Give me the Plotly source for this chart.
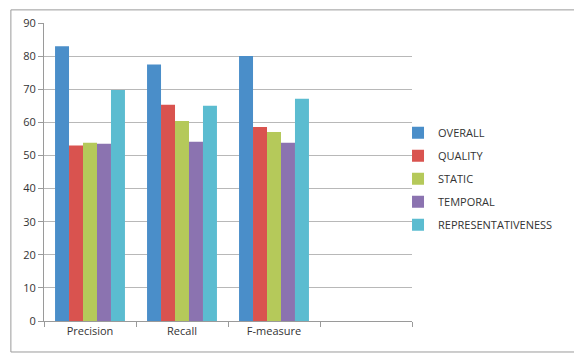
import plotly.graph_objects as go

categories = ["Precision", "Recall", "F-measure", " "]
series_names = ["OVERALL", "QUALITY", "STATIC", "TEMPORAL", "REPRESENTATIVENESS"]
overall = [83, 77.5, 80]
quality = [53, 65.3, 58.6]
static = [53.8, 60.4, 57.1]
temporal = [53.5, 54.1, 53.8]
representativeness = [69.8, 65, 67.1]
y_ticks = [0, 10, 20, 30, 40, 50, 60, 70, 80, 90]

colors = ["#4a8ec9", "#d9534f", "#b5c95a", "#8b73b0", "#5bbcd0"]
values = [overall, quality, static, temporal, representativeness]

fig = go.Figure()
for name, vals, col in zip(series_names, values, colors):
    fig.add_trace(go.Bar(
        x=categories[:len(vals)], y=vals, name=name,
        marker=dict(color=col, line=dict(width=0)),
        legendgroup=name,
    ))

fig.update_layout(
    width=574, height=354,
    margin=dict(l=44, r=162, t=23, b=33),
    paper_bgcolor="white", plot_bgcolor="white",
    barmode="group", bargap=0.24, bargroupgap=0,
    font=dict(family="Open Sans, Liberation Sans, sans-serif", size=11, color="#333333"),
    showlegend=True,
    legend=dict(x=0.962, y=0.68, xanchor="left", yanchor="top",
                font=dict(size=11, color="#333333"),
                tracegroupgap=4, itemwidth=30, bgcolor="rgba(0,0,0,0)"),
    shapes=[dict(type="rect", xref="paper", yref="paper",
                 x0=-0.09, x1=1.46, y0=-0.104, y1=1.044,
                 line=dict(color="#9a9a9a", width=1), fillcolor="rgba(0,0,0,0)",
                 layer="below")],
)
fig.update_xaxes(
    type="category", categoryorder="array", categoryarray=categories,
    range=[-0.5, 3.5],
    showline=True, linecolor="#9a9a9a", linewidth=1,
    ticks="outside", tickson="boundaries", ticklen=5, tickcolor="#9a9a9a",
    showgrid=False,
)
fig.update_yaxes(
    range=[0, 90], tickvals=y_ticks,
    showline=True, linecolor="#9a9a9a", linewidth=1,
    ticks="outside", ticklen=5, tickcolor="#9a9a9a",
    showgrid=True, gridcolor="#b8b8b8", gridwidth=1,
    zeroline=False,
)

fig.write_html("out.html")
